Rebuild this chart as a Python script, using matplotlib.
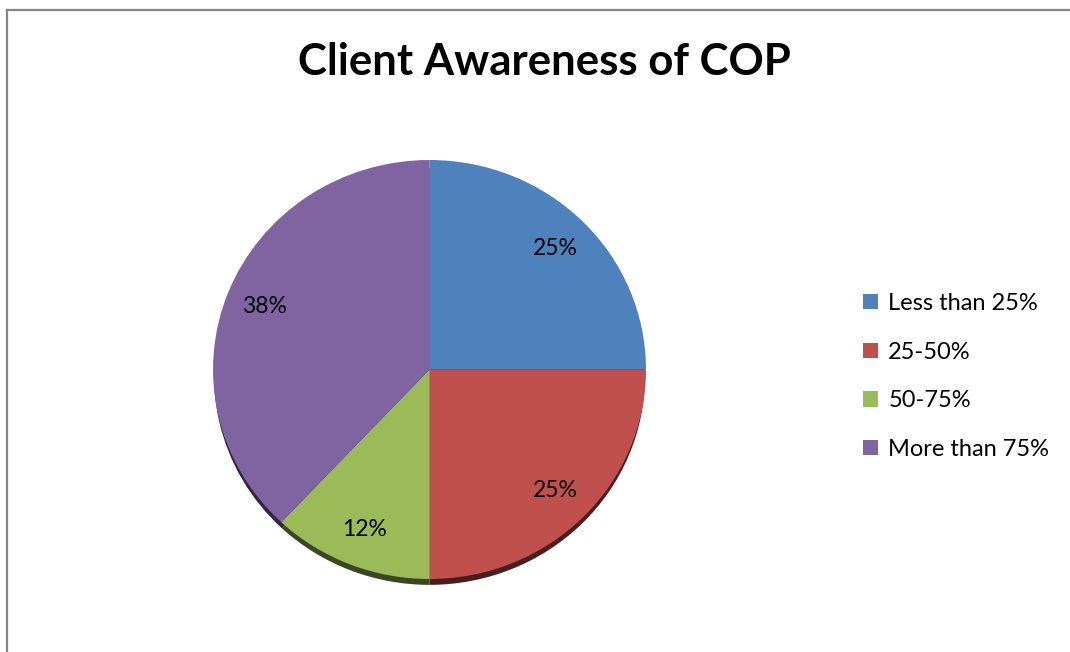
import matplotlib

matplotlib.use("Agg")
import matplotlib.pyplot as plt
from matplotlib.colors import to_rgb
from matplotlib.lines import Line2D

# survey shares, percent
categories = ["Less than 25%", "25-50%", "50-75%", "More than 75%"]
shares = [25, 25, 12, 38]
colors = ["#4F81BD", "#C0504D", "#9BBB59", "#8064A2"]

W, H = 1070, 652
plt.rcParams["font.family"] = ["Lato", "DejaVu Sans"]

fig = plt.figure(figsize=(W / 100, H / 100), dpi=100)
fig.patch.set_facecolor("white")

# chart-area border (only top and left edges fall inside the canvas)
fig.add_artist(Line2D([7 / W, 7 / W], [0, 1 - 10 / H], color="#878787", lw=1.6,
                      transform=fig.transFigure, solid_capstyle="projecting"))
fig.add_artist(Line2D([7 / W, 1], [1 - 10 / H, 1 - 10 / H], color="#878787", lw=1.6,
                      transform=fig.transFigure, solid_capstyle="projecting"))

fig.text(544 / W, 1 - 62 / H, "Client Awareness of COP", ha="center", va="center",
         fontsize=31.5, fontweight="bold", color="black")

# pie occupies an ellipse 433 x 419 px
left, right, top, bottom = 213, 646, 160, 579
ax = fig.add_axes([left / W, 1 - bottom / H, (right - left) / W, (bottom - top) / H])

# drop shadow: the same pie in darker tones, nudged downward
dark = [tuple(c * 0.38 for c in to_rgb(col)) for col in colors]
sh, _ = ax.pie(shares, colors=dark, startangle=90, counterclock=False,
               center=(0, -0.033), radius=0.995)
for w in sh:
    w.set_clip_on(False)
    w.set_zorder(1)

wedges, _, autotexts = ax.pie(shares, colors=colors, startangle=90, counterclock=False,
                              radius=1.0, autopct="%1.0f%%", pctdistance=0.82,
                              textprops=dict(fontsize=16.5, color="black"))
for w in wedges:
    w.set_clip_on(False)
    w.set_zorder(2)
for t in autotexts:
    t.set_zorder(3)

ax.set_aspect("auto")
ax.set_xlim(-1, 1)
ax.set_ylim(-1, 1)
ax.axis("off")

fig.legend(wedges, categories, loc="upper left",
           bbox_to_anchor=(863 / W, 1 - 293 / H), frameon=False,
           fontsize=17, handlelength=0.62, handleheight=0.62, handletextpad=0.45,
           labelspacing=1.17, borderpad=0, borderaxespad=0)

fig.savefig("out.png", dpi=100)
